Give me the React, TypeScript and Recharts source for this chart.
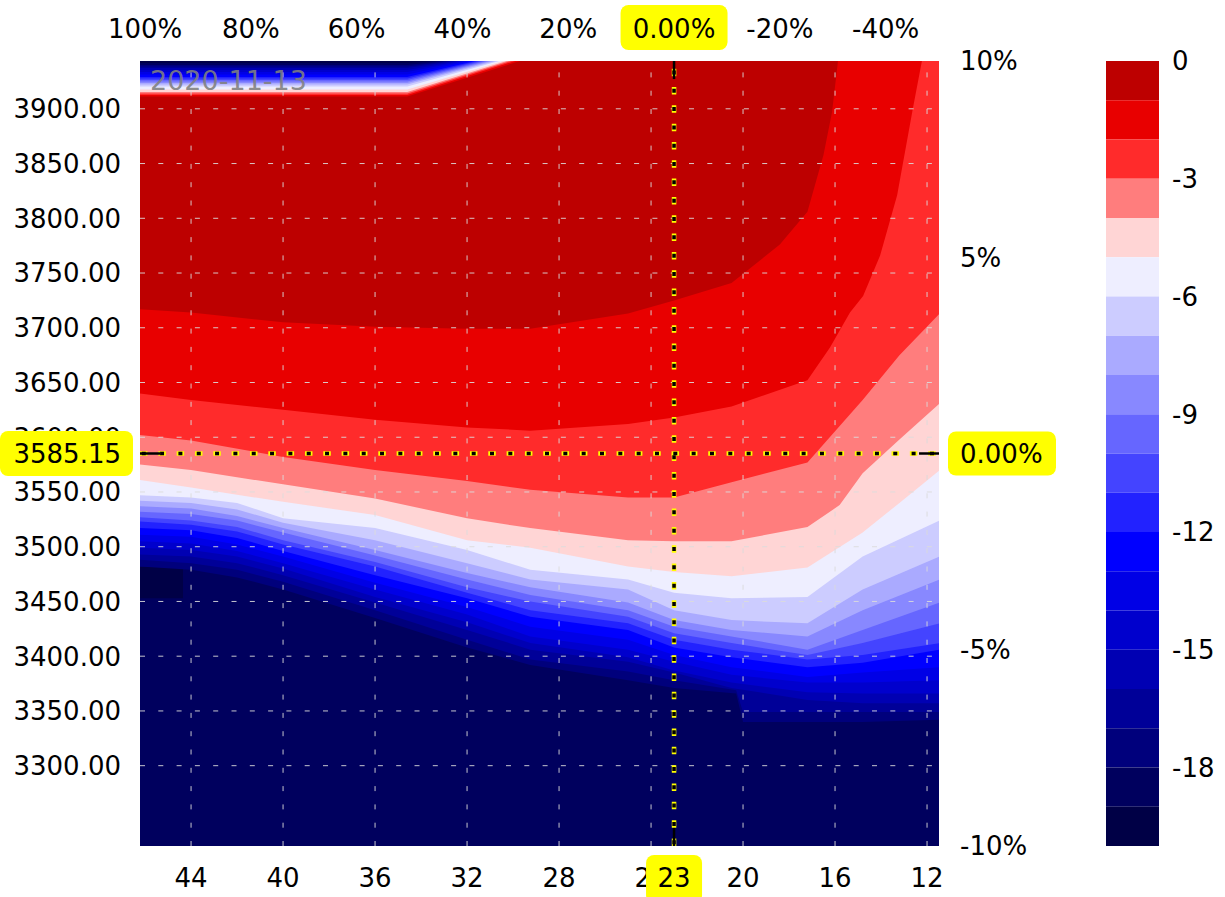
import React from 'react';
import { ComposedChart, Area, XAxis, YAxis, CartesianGrid, ReferenceLine, BarChart, Bar } from 'recharts';

type Pt = [number, number];

// ── Ejes ──────────────────────────────────────────────────────────────────────
const PIVOT_X = 23;
const PIVOT_Y = 3585.15;
const X_DOMAIN: [number, number] = [11.48, 46.22];
const Y_DOMAIN: [number, number] = [PIVOT_Y * 0.9, PIVOT_Y * 1.1];

const bottomTicks = [44, 40, 36, 32, 28, 24, 20, 16, 12];
const priceTicks = [3300, 3350, 3400, 3450, 3500, 3550, 3600, 3650, 3700, 3750, 3800, 3850, 3900];
const topPct = [100, 80, 60, 40, 20, -20, -40];
const rightPct = [10, 5, -5, -10];
const colorbarTicks = [0, -3, -6, -9, -12, -15, -18];

// 20 bandas de 1 unidad: 0..-1, -1..-2, ... -19..-20
const levelEdges = [0, -1, -2, -3, -4, -5, -6, -7, -8, -9, -10, -11, -12, -13, -14, -15, -16, -17, -18, -19, -20];
const bandColors = [
  '#bd0000', '#e80000', '#ff2b2b', '#ff7d7d', '#ffd5d5',
  '#eeeeff', '#ccccff', '#aaaaff', '#8888ff', '#6666ff',
  '#4444ff', '#2222ff', '#0000ff', '#0000e6', '#0000cd',
  '#0000b3', '#000098', '#00007c', '#00005e', '#000046',
];

// ── Curvas de nivel (x, precio): por encima de la curva k el valor es > -k ──
const lvl1: Pt[] = [[46.22, 3717], [44, 3714], [40, 3705], [36, 3701], [32, 3699], [29.25, 3699], [25, 3713], [23, 3725], [20.5, 3741], [18.4, 3776], [17.2, 3806], [16.5, 3858], [16.13, 3897], [15.87, 3944], [11.45, 3944]];
const lvl2: Pt[] = [[46.22, 3640], [44, 3634], [40, 3625], [36, 3616], [32, 3609], [29.25, 3606], [25, 3612], [23, 3618], [20.5, 3628], [17.2, 3652], [16.22, 3682], [15.35, 3714], [14.78, 3729], [14.04, 3766], [13.3, 3821], [12.61, 3901], [12.22, 3944], [11.45, 3944]];
const lvl3: Pt[] = [[46.22, 3602], [44, 3597], [40, 3582], [36, 3570], [32, 3560], [29.25, 3552], [25, 3545], [23, 3545], [20.5, 3559], [17.2, 3577], [14.8, 3634], [13.2, 3675], [11.45, 3713]];
const lvl4: Pt[] = [[46.22, 3575], [44, 3570], [40, 3557], [36, 3544], [32, 3526], [29.25, 3517], [25, 3506], [23, 3505], [20.5, 3505], [17.2, 3518], [15.8, 3538], [14.8, 3567], [13.2, 3598], [11.45, 3631]];
const lvl5: Pt[] = [[46.22, 3561], [44, 3554], [40, 3541], [36, 3529], [32, 3506], [29.25, 3499], [25, 3482], [23, 3477], [20.5, 3473], [17.2, 3481], [14.8, 3513], [13.2, 3540], [11.45, 3570]];

const blueX = [46.22, 44, 42, 40, 36, 32, 29.25, 25, 23, 20.5, 17.2, 14.8, 11.45];
const lvl6v = [3547, 3545, 3540, 3526, 3517, 3497, 3479, 3470, 3458, 3453, 3454, 3491, 3524];
const lvl7v = [3542, 3540, 3534, 3522, 3506, 3485, 3470, 3461, 3442, 3433, 3430, 3461, 3491];
const lvl8v = [3537, 3535, 3528, 3517, 3497, 3476, 3463, 3449, 3433, 3424, 3418, 3442, 3470];
const lvl9v = [3532, 3530, 3524, 3513, 3492, 3470, 3456, 3442, 3427, 3418, 3406, 3424, 3449];
const lvl10v = [3527, 3524, 3518, 3506, 3486, 3463, 3450, 3436, 3421, 3412, 3401, 3412, 3430];
const lvl11v = [3523, 3520, 3514, 3502, 3482, 3458, 3442, 3430, 3415, 3406, 3397, 3401, 3412];
const lvl12v = [3517, 3515, 3508, 3496, 3474, 3453, 3436, 3424, 3408, 3399, 3390, 3394, 3406];
const lvl13v = [3511, 3509, 3502, 3491, 3467, 3445, 3427, 3415, 3401, 3390, 3381, 3385, 3390];
const lvl14v = [3505, 3503, 3496, 3485, 3461, 3438, 3418, 3406, 3395, 3383, 3376, 3376, 3378];
const lvl15v = [3499, 3497, 3491, 3480, 3454, 3431, 3412, 3399, 3387, 3376, 3367, 3366, 3366];
const lvl16v = [3493, 3491, 3485, 3474, 3449, 3424, 3406, 3395, 3385, 3371, 3360, 3357, 3357];
const lvl17: Pt[] = [[46.22, 3488], [44, 3485], [42, 3479], [40, 3468], [36, 3442], [32, 3415], [29.25, 3397], [25, 3386], [23, 3378], [20.3, 3369], [20.0, 3349], [17.2, 3349], [14.8, 3349], [11.45, 3349]];
const lvl18: Pt[] = [[46.22, 3482], [44, 3479], [42, 3472], [40, 3461], [36, 3435], [32, 3408], [29.25, 3392], [25, 3378], [23, 3371], [20.3, 3366], [20.0, 3340], [17.2, 3340], [14.8, 3340], [11.45, 3342]];

// mancha más oscura (< -19) abajo a la izquierda
const deepPatchX = [46.22, 44.35];
const deepPatchRange: [number, number] = [3453, 3481.5];

// esquina superior izquierda: el campo vuelve a caer hacia arriba
const tlFlat = [3911.3, 3912.6, 3914.0, 3915.4, 3917.6, 3920.4, 3922.2, 3923.6, 3924.9, 3926.3, 3927.7, 3929.1, 3931.3, 3933.6, 3935.5, 3937.3, 3938.6, 3940.0, 3941.9];
const tlEdgeX = [29.7, 29.91, 30.09, 30.26, 30.43, 30.61, 30.78, 30.96, 31.13, 31.3, 31.48, 31.65, 31.87, 32.09, 32.3, 32.52, 32.74, 33.0, 33.35];
const tlKinkX = 34.6;

// ── Armado de series ─────────────────────────────────────────────────────────
const zipX = (ys: number[]): Pt[] => blueX.map((x, i) => [x, ys[i]]);
const toRows = (pts: Pt[]) => pts.map(([x, y]) => ({ x, y }));

const mainLevels: Pt[][] = [
  lvl1, lvl2, lvl3, lvl4, lvl5,
  zipX(lvl6v), zipX(lvl7v), zipX(lvl8v), zipX(lvl9v), zipX(lvl10v), zipX(lvl11v),
  zipX(lvl12v), zipX(lvl13v), zipX(lvl14v), zipX(lvl15v), zipX(lvl16v),
  lvl17, lvl18,
];

// pintamos de abajo hacia arriba: área sobre la curva k con el color de la banda k-1
const mainLayers = mainLevels.map((pts, i) => ({ rows: toRows(pts), color: bandColors[i] })).reverse();

const cornerLayers = tlFlat.map((y, i) => ({
  rows: toRows([[X_DOMAIN[1], y], [tlKinkX, y], [tlEdgeX[i], Y_DOMAIN[1]]]),
  color: bandColors[i + 1],
}));

const deepRows = deepPatchX.map((x) => ({ x, r: deepPatchRange }));

const cbRow: Record<string, number | string> = { name: 'cb' };
bandColors.forEach((_, i) => {
  cbRow[`b${i}`] = levelEdges[i + 1] - levelEdges[i];
});

// ── Ticks ────────────────────────────────────────────────────────────────────
const FONT = '"DejaVu Sans", Verdana, sans-serif';
const FS = 26;

type Side = 'left' | 'right' | 'top' | 'bottom';

const AxisTick = ({ x, y, payload, side, fmt, pivot }: any) => {
  const value = payload.value as number;
  const hit = pivot != null && Math.abs(value - pivot) < 1e-6;
  const s = side as Side;
  const anchor = s === 'left' ? 'end' : s === 'right' ? 'start' : 'middle';
  const baseY = s === 'top' ? y : s === 'bottom' ? y + 18.5 : y + 9.4;
  let box = null;
  if (hit) {
    const b =
      s === 'left'
        ? { bx: x - 121, by: y - 22.5, w: 133, h: 45 }
        : s === 'right'
        ? { bx: x - 12, by: y - 22, w: 108, h: 44 }
        : s === 'top'
        ? { bx: x - 53.5, by: y - 33, w: 107, h: 45 }
        : { bx: x - 28, by: y - 13, w: 56, h: 48 };
    box = <rect x={b.bx} y={b.by} width={b.w} height={b.h} rx={8} fill="#ffff00" />;
  }
  return (
    <g>
      {box}
      <text x={x} y={baseY} textAnchor={anchor} fontFamily={FONT} fontSize={FS} fill="#000">
        {fmt(value)}
      </text>
    </g>
  );
};

const fmtPrice = (v: number) => v.toFixed(2);
const fmtTop = (v: number) => (Math.abs(v - PIVOT_X) < 1e-6 ? '0.00%' : `${Math.round((v / PIVOT_X - 1) * 100)}%`);
const fmtRight = (v: number) => (Math.abs(v - PIVOT_Y) < 1e-6 ? '0.00%' : `${Math.round((v / PIVOT_Y - 1) * 100)}%`);
const fmtInt = (v: number) => `${v}`;

const topTicks = [...topPct.map((p) => PIVOT_X * (1 + p / 100)), PIVOT_X];
const rightTicks = [...rightPct.map((p) => PIVOT_Y * (1 + p / 100)), PIVOT_Y];

const gridStyle = { stroke: '#dcdcdc', strokeOpacity: 0.9, strokeWidth: 1, strokeDasharray: '5 13.3' };
const pivotYellow = { stroke: '#ffff00', strokeWidth: 4.5, strokeDasharray: '7.5 10.83' };
const pivotBlack = { stroke: '#000', strokeWidth: 3.5, strokeDasharray: '4 14.33', strokeDashoffset: -1.75 };

const capX = (X_DOMAIN[1] - X_DOMAIN[0]) * 0.025;
const capY = (Y_DOMAIN[1] - Y_DOMAIN[0]) * 0.023;

// ── Componente principal ─────────────────────────────────────────────────────
export default function App() {
  return (
    <div style={{ position: 'absolute', left: 0, top: 0, width: 1225, height: 897, background: '#fff' }}>
      <div style={{ position: 'absolute', left: 0, top: 0 }}>
        <ComposedChart width={1060} height={897} margin={{ top: 11, right: 11, bottom: 11, left: 10 }}>
          <CartesianGrid horizontal={false} vertical={false} fill={bandColors[18]} fillOpacity={1} />

          <XAxis
            type="number"
            dataKey="x"
            domain={X_DOMAIN}
            allowDataOverflow
            reversed
            ticks={[...bottomTicks, PIVOT_X]}
            interval={0}
            height={40}
            tickLine={false}
            axisLine={false}
            tickSize={0}
            tickMargin={22}
            tick={(p: any) => <AxisTick {...p} side="bottom" fmt={fmtInt} pivot={PIVOT_X} />}
          />
          <XAxis
            xAxisId="top"
            orientation="top"
            type="number"
            dataKey="x"
            domain={X_DOMAIN}
            allowDataOverflow
            reversed
            ticks={topTicks}
            interval={0}
            height={50}
            tickLine={false}
            axisLine={false}
            tickSize={0}
            tickMargin={23}
            tick={(p: any) => <AxisTick {...p} side="top" fmt={fmtTop} pivot={PIVOT_X} />}
          />
          <YAxis
            type="number"
            domain={Y_DOMAIN}
            allowDataOverflow
            ticks={[...priceTicks, PIVOT_Y]}
            interval={0}
            width={130}
            tickLine={false}
            axisLine={false}
            tickSize={0}
            tickMargin={19}
            tick={(p: any) => <AxisTick {...p} side="left" fmt={fmtPrice} pivot={PIVOT_Y} />}
          />
          <YAxis
            yAxisId="right"
            orientation="right"
            type="number"
            domain={Y_DOMAIN}
            allowDataOverflow
            ticks={rightTicks}
            interval={0}
            width={110}
            tickLine={false}
            axisLine={false}
            tickSize={0}
            tickMargin={21}
            tick={(p: any) => <AxisTick {...p} side="right" fmt={fmtRight} pivot={PIVOT_Y} />}
          />

          {/* Mancha más profunda */}
          <Area
            data={deepRows}
            dataKey="r"
            type="linear"
            stroke="none"
            fill={bandColors[19]}
            fillOpacity={1}
            dot={false}
            activeDot={false}
            isAnimationActive={false}
          />

          {/* Bandas principales */}
          {mainLayers.map((l, i) => (
            <Area
              key={`m${i}`}
              data={l.rows}
              dataKey="y"
              type="linear"
              baseValue={Y_DOMAIN[1]}
              stroke="none"
              fill={l.color}
              fillOpacity={1}
              dot={false}
              activeDot={false}
              isAnimationActive={false}
            />
          ))}

          {/* Esquina superior izquierda */}
          {cornerLayers.map((l, i) => (
            <Area
              key={`c${i}`}
              data={l.rows}
              dataKey="y"
              type="linear"
              baseValue={Y_DOMAIN[1]}
              stroke="none"
              fill={l.color}
              fillOpacity={1}
              dot={false}
              activeDot={false}
              isAnimationActive={false}
            />
          ))}

          {/* Grilla punteada */}
          {bottomTicks.map((v) => (
            <ReferenceLine key={`gx${v}`} x={v} {...gridStyle} zIndex={1500} />
          ))}
          {priceTicks.map((v) => (
            <ReferenceLine key={`gy${v}`} y={v} {...gridStyle} zIndex={1500} />
          ))}

          {/* Líneas del pivote */}
          <ReferenceLine x={PIVOT_X} {...pivotYellow} zIndex={1600} />
          <ReferenceLine x={PIVOT_X} {...pivotBlack} zIndex={1601} />
          <ReferenceLine y={PIVOT_Y} {...pivotYellow} zIndex={1600} />
          <ReferenceLine y={PIVOT_Y} {...pivotBlack} zIndex={1601} />
          <ReferenceLine segment={[{ x: X_DOMAIN[1], y: PIVOT_Y }, { x: X_DOMAIN[1] - capX, y: PIVOT_Y }]} stroke="#000" strokeWidth={2.5} zIndex={1602} />
          <ReferenceLine segment={[{ x: X_DOMAIN[0] + capX, y: PIVOT_Y }, { x: X_DOMAIN[0], y: PIVOT_Y }]} stroke="#000" strokeWidth={2.5} zIndex={1602} />
          <ReferenceLine segment={[{ x: PIVOT_X, y: Y_DOMAIN[1] }, { x: PIVOT_X, y: Y_DOMAIN[1] - capY }]} stroke="#000" strokeWidth={2.5} zIndex={1602} />
          <ReferenceLine segment={[{ x: PIVOT_X, y: Y_DOMAIN[0] }, { x: PIVOT_X, y: Y_DOMAIN[0] + capY }]} stroke="#000" strokeWidth={2.5} zIndex={1602} />
        </ComposedChart>
      </div>

      {/* Barra de colores */}
      <div style={{ position: 'absolute', left: 1100, top: 0 }}>
        <BarChart
          width={125}
          height={897}
          data={[cbRow]}
          margin={{ top: 61, bottom: 51, left: 6, right: 0 }}
          barCategoryGap={0}
          stackOffset="sign"
        >
          <XAxis dataKey="name" hide />
          <YAxis
            orientation="right"
            type="number"
            domain={[levelEdges[levelEdges.length - 1], levelEdges[0]]}
            allowDataOverflow
            ticks={colorbarTicks}
            interval={0}
            width={66}
            tickLine={false}
            axisLine={false}
            tickSize={0}
            tickMargin={13}
            tick={(p: any) => <AxisTick {...p} side="right" fmt={fmtInt} pivot={null} />}
          />
          {bandColors.map((c, i) => (
            <Bar key={`b${i}`} dataKey={`b${i}`} stackId="cb" fill={c} isAnimationActive={false} />
          ))}
        </BarChart>
      </div>

      {/* Fecha */}
      <svg width={1225} height={897} style={{ position: 'absolute', left: 0, top: 0, pointerEvents: 'none' }}>
        <text x={150} y={90} fontFamily={FONT} fontSize={27} fill="#808080" fillOpacity={0.9}>
          2020-11-13
        </text>
      </svg>
    </div>
  );
}
